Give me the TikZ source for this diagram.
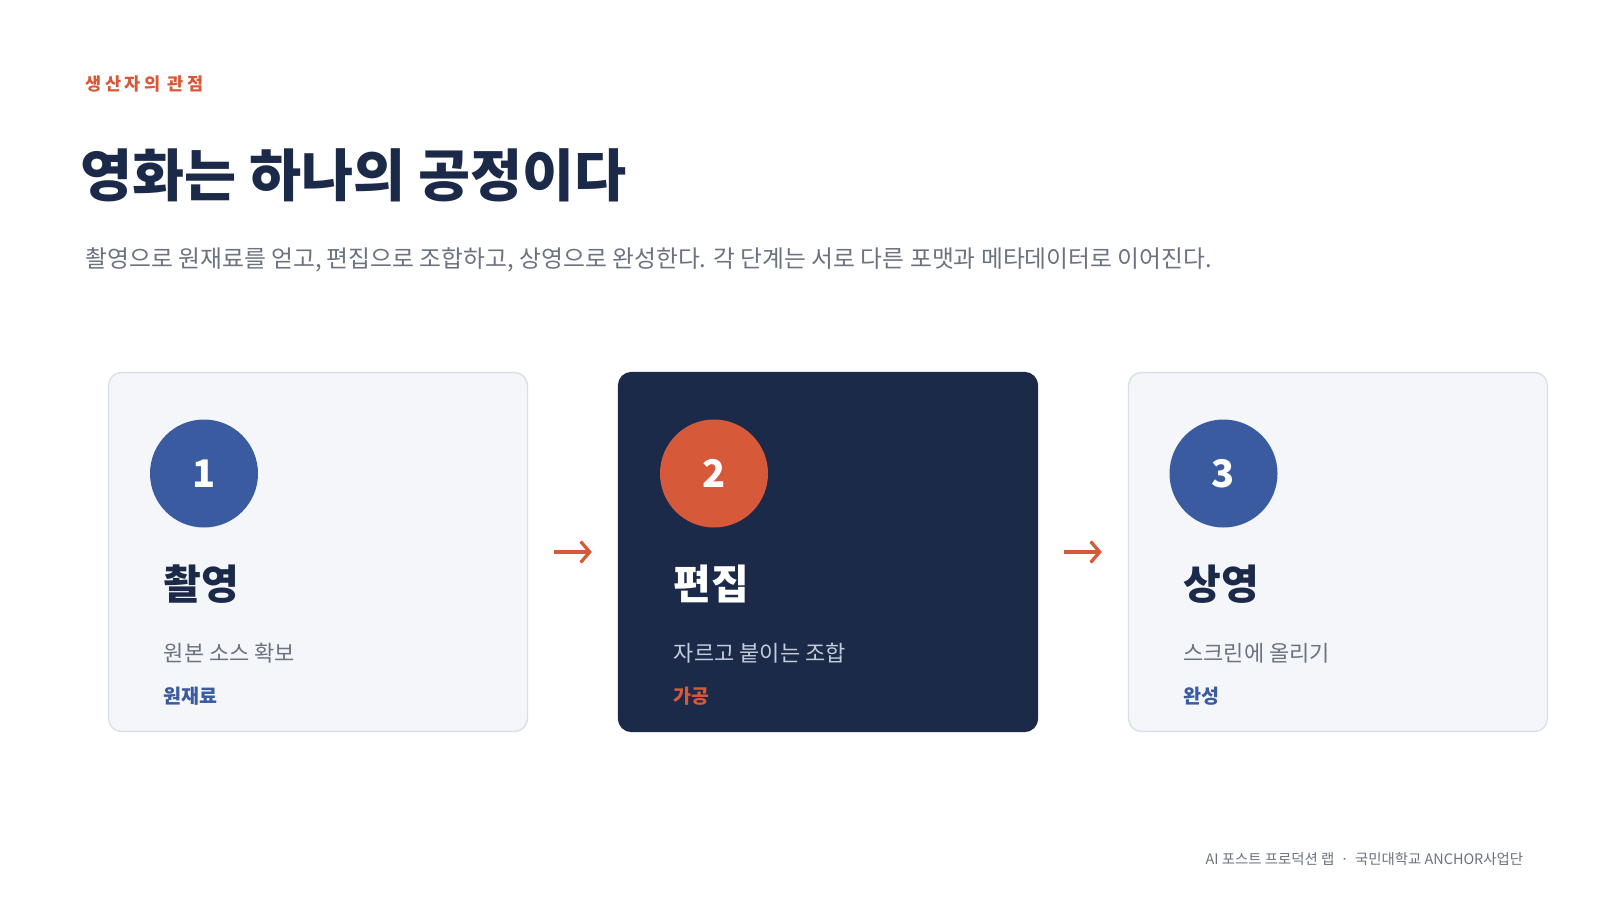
\documentclass[tikz,border=0pt]{standalone}
\usepackage{fontspec}
\setmainfont{Noto Sans CJK KR}
\usetikzlibrary{arrows.meta}

\definecolor{navy}{HTML}{1C2A4A}
\definecolor{accent}{HTML}{D65A3A}
\definecolor{steel}{HTML}{3A5BA0}
\definecolor{mutetext}{HTML}{6B7280}
\definecolor{cardfill}{HTML}{F4F6FA}
\definecolor{cardline}{HTML}{D9DEE8}
\definecolor{paletext}{HTML}{C5CCD9}

\begin{document}
\begin{tikzpicture}[x=1pt, y=-1pt, thick,
    card node/.style={rectangle, rounded corners=13pt, draw=cardline, line width=1.3pt, fill=cardfill, minimum width=419pt, minimum height=359pt, inner sep=0pt},
    num node/.style={circle, minimum size=108pt, inner sep=0pt, text=white, font=\bfseries\fontsize{38}{38}\selectfont},
    head node/.style={anchor=west, inner sep=0pt, text=navy, font=\bfseries\fontsize{41}{41}\selectfont},
    desc node/.style={anchor=west, inner sep=0pt, text=mutetext, font=\fontsize{22}{22}\selectfont},
    tag node/.style={anchor=west, inner sep=0pt, font=\bfseries\fontsize{19.5}{19.5}\selectfont},
    flow/.style={accent, line width=3.3pt, -{Straight Barb[length=9pt, width=21pt, line width=3.3pt]}, shorten <=26pt, shorten >=26pt}]

            \useasboundingbox[fill=white] (0,0) rectangle (1600,900);

            % heading
            \node[anchor=west, inner sep=0pt, text=accent, font=\bfseries\fontsize{17.5}{17.5}\selectfont\addfontfeature{LetterSpace=20}] at (85, 84) (kicker) {생산자의 관점};
            \node[anchor=west, inner sep=0pt, text=navy, font=\bfseries\fontsize{56.6}{56.6}\selectfont] at (80, 175.5) (title) {영화는 하나의 공정이다};
            \node[anchor=west, inner sep=0pt, text=mutetext, font=\fontsize{23.8}{23.8}\selectfont] at (85, 260) (lead) {촬영으로 원재료를 얻고, 편집으로 조합하고, 상영으로 완성한다. 각 단계는 서로 다른 포맷과 메타데이터로 이어진다.};

            % cards
            \node[card node] at (318, 552) (shoot) {};
            \node[card node, fill=navy, draw=navy] at (828, 552) (edit) {};
            \node[card node] at (1338, 552) (screen) {};

            \node[num node, fill=steel] at (204, 473.5) (n1) {1};
            \node[num node, fill=accent] at (714, 473.5) (n2) {2};
            \node[num node, fill=steel] at (1223.5, 473.5) (n3) {3};

            \node[head node] at (163.5, 584) (h1) {촬영};
            \node[head node, text=white] at (673.5, 584) (h2) {편집};
            \node[head node] at (1183, 584) (h3) {상영};

            \node[desc node] at (163.5, 653) (d1) {원본 소스 확보};
            \node[desc node, text=paletext] at (673.5, 653) (d2) {자르고 붙이는 조합};
            \node[desc node] at (1183, 653) (d3) {스크린에 올리기};

            \node[tag node, text=steel] at (163.5, 696) (t1) {원재료};
            \node[tag node, text=accent] at (673.5, 696) (t2) {가공};
            \node[tag node, text=steel] at (1183, 696) (t3) {완성};

            \path[flow] (shoot) edge (edit);
            \path[flow] (edit) edge (screen);

            % footer
            \node[anchor=east, inner sep=0pt, text=mutetext, font=\fontsize{14.4}{14.4}\selectfont] at (1523.5, 859) (foot) {AI 포스트 프로덕션 랩 \ · \ 국민대학교 ANCHOR사업단};
        \end{tikzpicture}
\end{document}
